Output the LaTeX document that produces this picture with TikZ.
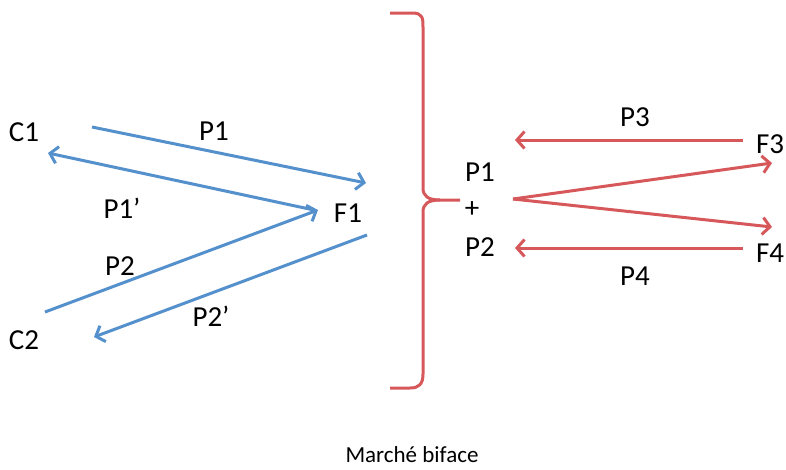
\documentclass[tikz,border=0pt]{standalone}
\usepackage{fontspec}
\setmainfont{Carlito}
\usetikzlibrary{arrows.meta}
\definecolor{arrblue}{RGB}{84,144,204}
\definecolor{arrred}{RGB}{214,88,90}
\begin{document}
\begin{tikzpicture}[x=1pt,y=-1pt,
  lab/.style={font=\fontsize{29}{31}\selectfont, inner sep=0pt},
  captext/.style={font=\fontsize{23}{25}\selectfont, inner sep=0pt, anchor=base},
  barrow/.style={draw=arrblue, line width=3pt, -{Straight Barb[length=7.5pt,width=17pt]}},
  rarrow/.style={draw=arrred, line width=3pt, -{Straight Barb[length=7.5pt,width=17pt]}},
  bracestyle/.style={draw=arrred, line width=3pt, line join=round}]
\useasboundingbox (0,0) rectangle (786,469);
% labels
\node[lab] (C1) at (24,132) {C1};
\node[lab] (C2) at (24,340) {C2};
\node[lab] (F1) at (348,213) {F1};
\node[lab] (lP1) at (214,131) {P1};
\node[lab] (lP1p) at (122,208) {P1’};
\node[lab] (lP2) at (120,266) {P2};
\node[lab] (lP2p) at (211,316) {P2’};
\node[lab] (rP1) at (480,172) {P1};
\node[lab] (plus) at (472,210) {+};
\node[lab] (rP2) at (480,247) {P2};
\node[lab] (lP3) at (635,117) {P3};
\node[lab] (lP4) at (635,276) {P4};
\node[lab] (F3) at (770,144) {F3};
\node[lab] (F4) at (770,253) {F4};
\node[captext] (caption) at (412,462) {Marché biface};
% endpoints
\coordinate (a1s) at (92,127);  \coordinate (a1e) at (366,183);
\coordinate (a2s) at (314,210); \coordinate (a2e) at (48,153);
\coordinate (a3s) at (45,312);  \coordinate (a3e) at (318,210);
\coordinate (a4s) at (367,235); \coordinate (a4e) at (94,337);
\coordinate (b0) at (513,199);
\coordinate (b3) at (772,163);  \coordinate (b4) at (772,227);
\coordinate (p3s) at (743,140); \coordinate (p3e) at (515,140);
\coordinate (p4s) at (743,248); \coordinate (p4e) at (515,248);
% blue arrows
\draw[barrow] (a1s) -- (a1e);
\draw[barrow] (a2s) -- (a2e);
\draw[barrow] (a3s) -- (a3e);
\draw[barrow] (a4s) -- (a4e);
% red arrows
\draw[rarrow] (p3s) -- (p3e);
\draw[rarrow] (p4s) -- (p4e);
\draw[rarrow] (b0) -- (b3);
\draw[rarrow] (b0) -- (b4);
% brace
\draw[bracestyle] (390,13) -- (412,13) .. controls (423,13) and (423,18) .. (423,28)
  -- (423,188) .. controls (423,196) and (428,200) .. (440,200) -- (460,200);
\draw[bracestyle] (440,200) .. controls (428,200) and (423,204) .. (423,212)
  -- (423,374) .. controls (423,384) and (419,388) .. (410,388) -- (390,388);
\end{tikzpicture}
\end{document}
